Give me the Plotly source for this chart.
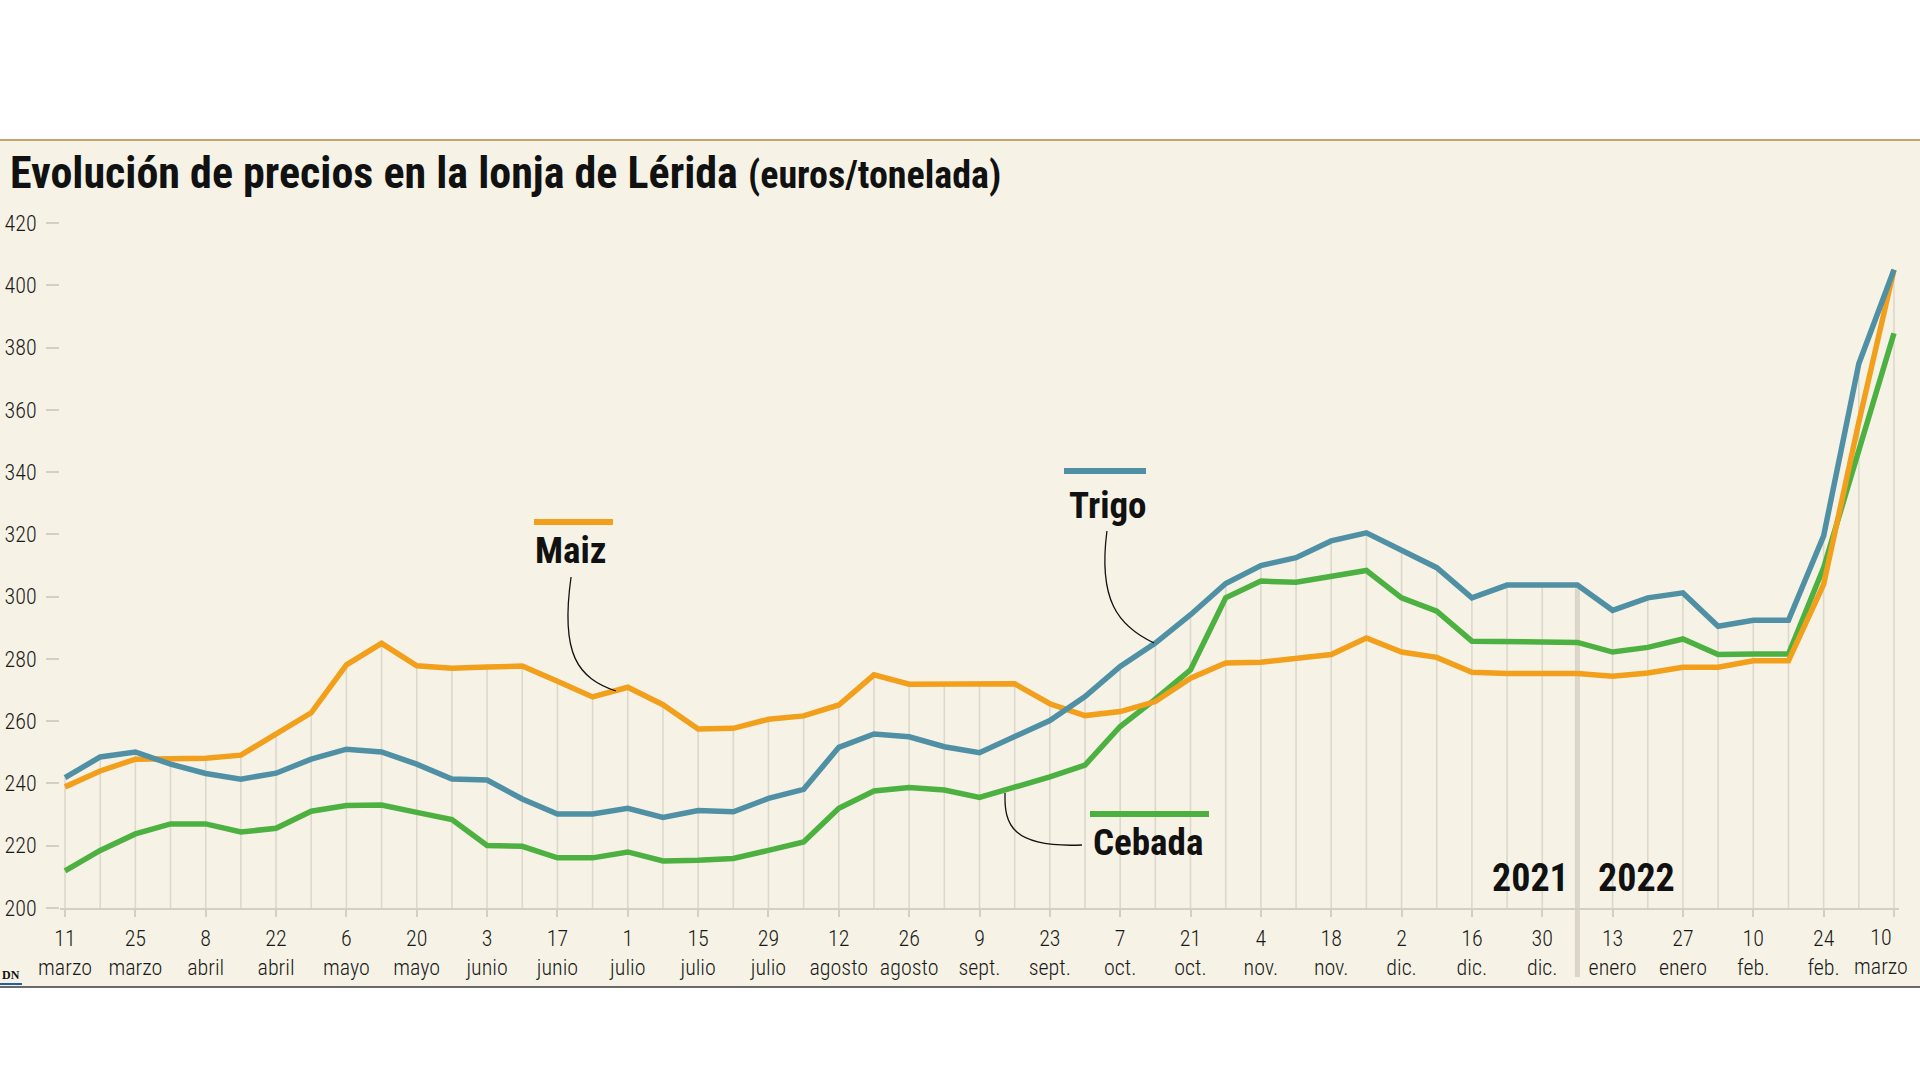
import plotly.graph_objects as go

# ---------------- data ----------------
weeks = [
    "2021-03-11", "2021-03-18", "2021-03-25", "2021-04-01", "2021-04-08", "2021-04-15",
    "2021-04-22", "2021-04-29", "2021-05-06", "2021-05-13", "2021-05-20", "2021-05-27",
    "2021-06-03", "2021-06-10", "2021-06-17", "2021-06-24", "2021-07-01", "2021-07-08",
    "2021-07-15", "2021-07-22", "2021-07-29", "2021-08-05", "2021-08-12", "2021-08-19",
    "2021-08-26", "2021-09-02", "2021-09-09", "2021-09-16", "2021-09-23", "2021-09-30",
    "2021-10-07", "2021-10-14", "2021-10-21", "2021-10-28", "2021-11-04", "2021-11-11",
    "2021-11-18", "2021-11-25", "2021-12-02", "2021-12-09", "2021-12-16", "2021-12-23",
    "2021-12-30", "2022-01-06", "2022-01-13", "2022-01-20", "2022-01-27", "2022-02-03",
    "2022-02-10", "2022-02-17", "2022-02-24", "2022-03-03", "2022-03-10",
]

maiz = [238.9, 244.0, 247.8, 247.8, 248.1, 249.1, 256.0, 262.7, 278.1, 285.0,
        277.8, 277.0, 277.4, 277.7, 272.8, 267.8, 270.9, 265.3, 257.5, 257.7,
        260.6, 261.7, 265.2, 274.9, 271.9, 271.9, 271.9, 272.0, 265.6, 261.8,
        263.1, 266.3, 273.8, 278.7, 278.9, 280.0, 281.4, 286.7, 282.2, 280.5,
        275.7, 275.3, 275.3, 275.3, 274.4, 275.5, 277.3, 277.3, 279.4, 279.4,
        303.9, 356.0, 405.0]

trigo = [241.9, 248.5, 250.1, 246.2, 243.2, 241.4, 243.3, 247.8, 251.0, 250.1,
         246.2, 241.4, 241.1, 235.0, 230.2, 230.2, 232.0, 229.1, 231.3, 230.9,
         235.2, 238.1, 251.6, 255.9, 255.0, 251.8, 249.9, 255.0, 260.2, 267.9,
         277.6, 285.1, 294.2, 304.2, 310.0, 312.5, 317.9, 320.5, 314.7, 309.3,
         299.6, 303.7, 303.7, 303.7, 295.6, 299.6, 301.2, 290.5, 292.4, 292.4,
         319.5, 374.8, 405.0]

cebada = [211.9, 218.5, 223.8, 227.0, 227.0, 224.4, 225.6, 231.1, 232.9, 233.1,
          230.7, 228.4, 220.1, 219.8, 216.1, 216.1, 218.0, 215.1, 215.3, 215.9,
          218.5, 221.2, 232.0, 237.6, 238.7, 237.9, 235.5, 238.6, 242.1, 245.9,
          258.3, 267.1, 276.5, 299.6, 305.0, 304.6, 306.6, 308.4, 299.6, 295.3,
          285.7, 285.5, 285.3, 285.3, 282.2, 283.7, 286.4, 281.4, 281.6, 281.6,
          309.3, 346.3, 384.6]

tick_dates = weeks[::2]
tick_labels = [
    "11<br>marzo", "25<br>marzo", "8<br>abril", "22<br>abril", "6<br>mayo", "20<br>mayo",
    "3<br>junio", "17<br>junio", "1<br>julio", "15<br>julio", "29<br>julio", "12<br>agosto",
    "26<br>agosto", "9<br>sept.", "23<br>sept.", "7<br>oct.", "21<br>oct.", "4<br>nov.",
    "18<br>nov.", "2<br>dic.", "16<br>dic.", "30<br>dic.", "13<br>enero", "27<br>enero",
    "10<br>feb.", "24<br>feb.", "10<br>marzo",
]
y_ticks = [200, 220, 240, 260, 280, 300, 320, 340, 360, 380, 400, 420]

series_names = ["Maiz", "Trigo", "Cebada"]
year_labels = ["2021", "2022"]
year_break = "2022-01-06"

# ---------------- style ----------------
W, H = 1920, 1080
L, R, T, B = 60, 21, 223, 172
PW, PH = W - L - R, H - T - B
BOTTOM_Y = H - B

BG = "#f6f3e6"
C_MAIZ = "#f29f1c"
C_TRIGO = "#5090a4"
C_CEBADA = "#4cb140"
GRID = "#dcd8cb"
COND = "Roboto Condensed, Liberation Sans Narrow, sans-serif"
TICKFONT = dict(family=COND, size=22, color="#1a1a1a", weight=300)


def px_x(px):
    return (px - L) / PW


def px_y(py):
    return (BOTTOM_Y - py) / PH


fig = go.Figure()

# drop lines from the highest series down to the baseline
top = [max(a, b, c) for a, b, c in zip(maiz, trigo, cebada)]
gx, gy = [], []
for d, v in zip(weeks, top):
    gx += [d, d, None]
    gy += [v, y_ticks[0], None]
fig.add_trace(go.Scatter(x=gx, y=gy, mode="lines", line=dict(color=GRID, width=1.6),
                         hoverinfo="skip", showlegend=False))

for name, vals, col in [("Cebada", cebada, C_CEBADA), ("Maiz", maiz, C_MAIZ), ("Trigo", trigo, C_TRIGO)]:
    fig.add_trace(go.Scatter(x=weeks, y=vals, mode="lines", name=name,
                             line=dict(color=col, width=5.5), showlegend=False))

shapes = []
# beige panel
shapes.append(dict(type="rect", xref="paper", yref="paper", layer="below",
                   x0=px_x(0), x1=px_x(W), y0=px_y(987), y1=px_y(140),
                   fillcolor=BG, line=dict(width=0)))
# top golden rule
shapes.append(dict(type="line", xref="paper", yref="paper", x0=px_x(0), x1=px_x(W),
                   y0=px_y(140), y1=px_y(140), line=dict(color="#c4a46c", width=2)))
# bottom dark rule
shapes.append(dict(type="line", xref="paper", yref="paper", x0=px_x(0), x1=px_x(W),
                   y0=px_y(987), y1=px_y(987), line=dict(color="#3a3a3a", width=1.5)))
# year separator
bi = weeks.index(year_break)
shapes.append(dict(type="line", xref="x", yref="paper", layer="below",
                   x0=year_break, x1=year_break,
                   y0=px_y(977), y1=(top[bi] - y_ticks[0]) / (y_ticks[-1] - y_ticks[0]),
                   line=dict(color="#dbd5c8", width=5)))

# legend bars
for x0, x1, yy, col in [(534, 613, 522, C_MAIZ), (1064, 1146, 471, C_TRIGO), (1090, 1209, 814, C_CEBADA)]:
    shapes.append(dict(type="line", xref="paper", yref="paper", x0=px_x(x0), x1=px_x(x1),
                       y0=px_y(yy), y1=px_y(yy), line=dict(color=col, width=6)))


def curve(pts):
    (a, b), (c, d), (e, f), (g, h) = pts
    return "M{:.4f},{:.4f} C{:.4f},{:.4f} {:.4f},{:.4f} {:.4f},{:.4f}".format(
        px_x(a), px_y(b), px_x(c), px_y(d), px_x(e), px_y(f), px_x(g), px_y(h))


for pts in [
    [(571, 577), (560, 655), (578, 678), (616, 691)],
    [(1107, 531), (1098, 600), (1118, 626), (1154, 643)],
    [(1082, 845), (1012, 848), (1004, 825), (1005, 793)],
]:
    shapes.append(dict(type="path", xref="paper", yref="paper", path=curve(pts),
                       line=dict(color="#111111", width=1.3)))

# DN logo underline
shapes.append(dict(type="line", xref="paper", yref="paper", x0=px_x(0), x1=px_x(22),
                   y0=px_y(984), y1=px_y(984), line=dict(color="#1f5fa8", width=2)))

annotations = []
annotations.append(dict(
    xref="paper", yref="paper", x=px_x(8), y=px_y(173), xanchor="left", yanchor="middle",
    text="<b>Evolución de precios en la lonja de Lérida</b> "
         "<span style='font-size:38px'><b>(euros/tonelada)</b></span>",
    showarrow=False, font=dict(family=COND, size=44, color="#111111")))

for txt, x0, yc in [("Maiz", 533, 550), ("Trigo", 1067, 505), ("Cebada", 1091, 842)]:
    annotations.append(dict(xref="paper", yref="paper", x=px_x(x0), y=px_y(yc),
                            xanchor="left", yanchor="middle", text="<b>%s</b>" % txt,
                            showarrow=False, font=dict(family=COND, size=37, color="#111111")))

annotations.append(dict(xref="x", yref="paper", x=year_break, y=px_y(878), xanchor="right",
                        yanchor="middle", xshift=-6, text="<b>%s</b>" % year_labels[0],
                        showarrow=False, font=dict(family=COND, size=38, color="#111111")))
annotations.append(dict(xref="x", yref="paper", x=year_break, y=px_y(878), xanchor="left",
                        yanchor="middle", xshift=19, text="<b>%s</b>" % year_labels[1],
                        showarrow=False, font=dict(family=COND, size=38, color="#111111")))

# last x label, nudged left so it stays inside the page
annotations.append(dict(xref="x", yref="paper", x=tick_dates[-1], y=px_y(952), xanchor="center",
                        yanchor="middle", xshift=-13, text=tick_labels[-1], align="center",
                        showarrow=False, font=TICKFONT))

annotations.append(dict(xref="paper", yref="paper", x=px_x(0), y=px_y(975), xanchor="left",
                        yanchor="middle", text="<b>DN</b>", showarrow=False,
                        font=dict(family="Liberation Serif, serif", size=12, color="#111111")))

fig.update_layout(
    width=W, height=H,
    margin=dict(l=L, r=R, t=T, b=B, pad=0),
    paper_bgcolor="white",
    plot_bgcolor="rgba(0,0,0,0)",
    shapes=shapes,
    annotations=annotations,
    showlegend=False,
    xaxis=dict(
        type="date",
        range=["2021-03-10", "2022-03-11"],
        tickmode="array", tickvals=tick_dates, ticktext=tick_labels[:-1] + [""],
        tickangle=0, automargin=False,
        showgrid=False, zeroline=False,
        showline=True, linecolor="#d3cfc2", linewidth=1.5,
        ticks="outside", ticklen=7, tickcolor="#d3cfc2", tickwidth=1.5,
        tickfont=TICKFONT,
        ticklabelstandoff=3,
    ),
    yaxis=dict(
        range=[200, 420], automargin=False,
        tickmode="array", tickvals=y_ticks, ticktext=[str(v) for v in y_ticks],
        showgrid=False, zeroline=False, showline=False,
        ticks="outside", ticklen=13, tickcolor="#d3cfc2", tickwidth=1.5,
        tickfont=TICKFONT,
        ticklabelstandoff=5,
    ),
)

fig.write_html("out.html", config={"displayModeBar": False},
               post_script="document.body.style.margin='0px';")
